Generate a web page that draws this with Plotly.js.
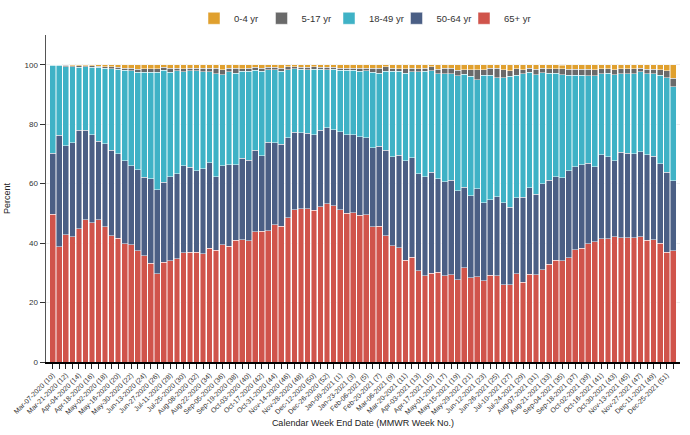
<!DOCTYPE html>
<html>
<head>
<meta charset="utf-8">
<script src="https://cdn.plot.ly/plotly-3.0.1.min.js"></script>
<style>html,body{margin:0;padding:0;background:#fff;}#chart{width:690px;height:435px;}</style>
</head>
<body>
<div id="chart"></div>
<script>
const weeks = [
"Mar-07-2020 (10)","Mar-14-2020 (11)","Mar-21-2020 (12)","Mar-28-2020 (13)","Apr-04-2020 (14)","Apr-11-2020 (15)","Apr-18-2020 (16)","Apr-25-2020 (17)",
"May-02-2020 (18)","May-09-2020 (19)","May-16-2020 (20)","May-23-2020 (21)","May-30-2020 (22)","Jun-06-2020 (23)","Jun-13-2020 (24)","Jun-20-2020 (25)",
"Jun-27-2020 (26)","Jul-04-2020 (27)","Jul-11-2020 (28)","Jul-18-2020 (29)","Jul-25-2020 (30)","Aug-01-2020 (31)","Aug-08-2020 (32)","Aug-15-2020 (33)",
"Aug-22-2020 (34)","Aug-29-2020 (35)","Sep-05-2020 (36)","Sep-12-2020 (37)","Sep-19-2020 (38)","Sep-26-2020 (39)","Oct-03-2020 (40)","Oct-10-2020 (41)",
"Oct-17-2020 (42)","Oct-24-2020 (43)","Oct-31-2020 (44)","Nov-07-2020 (45)","Nov-14-2020 (46)","Nov-21-2020 (47)","Nov-28-2020 (48)","Dec-05-2020 (49)",
"Dec-12-2020 (50)","Dec-19-2020 (51)","Dec-26-2020 (52)","Jan-02-2021 (53)","Jan-09-2021 (1)","Jan-16-2021 (2)","Jan-23-2021 (3)","Jan-30-2021 (4)",
"Feb-06-2021 (5)","Feb-13-2021 (6)","Feb-20-2021 (7)","Feb-27-2021 (8)","Mar-06-2021 (9)","Mar-13-2021 (10)","Mar-20-2021 (11)","Mar-27-2021 (12)",
"Apr-03-2021 (13)","Apr-10-2021 (14)","Apr-17-2021 (15)","Apr-24-2021 (16)","May-01-2021 (17)","May-08-2021 (18)","May-15-2021 (19)","May-22-2021 (20)",
"May-29-2021 (21)","Jun-05-2021 (22)","Jun-12-2021 (23)","Jun-19-2021 (24)","Jun-26-2021 (25)","Jul-03-2021 (26)","Jul-10-2021 (27)","Jul-17-2021 (28)",
"Jul-24-2021 (29)","Jul-31-2021 (30)","Aug-07-2021 (31)","Aug-14-2021 (32)","Aug-21-2021 (33)","Aug-28-2021 (34)","Sep-04-2021 (35)","Sep-11-2021 (36)",
"Sep-18-2021 (37)","Sep-25-2021 (38)","Oct-02-2021 (39)","Oct-09-2021 (40)","Oct-16-2021 (41)","Oct-23-2021 (42)","Oct-30-2021 (43)","Nov-06-2021 (44)",
"Nov-13-2021 (45)","Nov-20-2021 (46)","Nov-27-2021 (47)","Dec-04-2021 (48)","Dec-11-2021 (49)","Dec-18-2021 (50)","Dec-25-2021 (51)","Jan-01-2022 (52)"
];

const age65plus = [
49.7,38.8,42.8,42.1,44.9,47.8,46.9,47.9,45.5,42.4,41.6,39.7,39.5,37.5,35.7,33.3,
29.7,33.6,34.1,34.8,36.7,36.9,37.0,36.4,38.3,37.6,39.5,38.9,40.9,41.1,40.8,43.9,
44.0,44.1,46.2,45.7,48.6,51.2,51.5,51.5,51.1,52.2,53.2,52.5,51.2,50.0,50.2,49.3,
49.6,45.5,45.7,42.4,39.1,38.4,34.3,35.2,30.7,29.0,29.8,30.2,29.0,29.4,27.6,31.7,
28.3,28.6,27.4,29.1,29.0,26.0,26.0,29.7,26.8,29.6,29.3,31.1,32.9,34.3,34.1,35.1,
37.7,38.2,39.8,40.4,41.5,41.5,42.1,41.8,41.8,41.8,42.1,40.9,41.1,40.0,36.9,37.5
];
const age50to64 = [
20.6,37.4,29.9,31.6,33.0,30.2,29.6,26.4,27.9,28.8,28.5,28.0,26.5,27.1,26.4,28.3,
28.3,26.9,28.3,28.5,29.3,28.6,27.4,28.6,28.7,24.8,26.6,27.5,25.5,27.4,27.0,27.3,
25.3,29.8,27.6,27.5,26.9,26.1,25.7,25.4,25.3,25.7,25.6,25.6,26.2,26.4,26.2,26.5,
25.9,26.6,26.8,28.8,29.9,31.1,33.4,33.5,32.6,33.3,34.1,31.5,31.6,31.8,30.0,27.1,
27.6,29.6,26.2,25.4,26.6,27.6,26.0,25.5,28.6,29.0,27.2,28.8,28.3,28.1,27.9,29.3,
28.0,28.1,27.1,25.3,28.2,27.6,25.6,28.7,28.5,28.2,28.6,28.9,28.1,26.7,27.0,23.4
];
const age18to49 = [
29.6,23.7,26.7,25.6,21.3,21.3,22.7,24.8,25.5,27.5,28.4,30.4,31.9,32.9,35.4,35.8,
39.4,37.7,35.1,34.7,31.6,32.5,33.6,32.6,30.6,34.5,30.5,31.2,30.8,29.3,30.0,26.9,
28.5,24.4,24.5,24.6,22.8,21.4,21.3,21.4,22.0,20.6,19.5,20.4,20.7,21.7,21.7,22.0,
22.5,25.4,24.7,26.6,28.8,28.3,29.4,29.0,34.4,35.5,34.1,35.3,36.4,35.7,38.7,38.0,
40.2,36.7,42.8,41.9,40.1,42.1,44.1,41.2,41.6,38.9,40.2,37.4,35.9,34.7,34.6,32.0,
30.7,30.2,29.4,30.6,27.3,28.1,28.9,26.5,26.7,26.9,26.9,27.1,27.8,29.7,31.8,31.7
];
const age5to17 = [
0.1,0.1,0.4,0.3,0.4,0.3,0.4,0.4,0.5,0.6,0.7,0.8,0.9,1.0,1.2,1.3,
1.3,0.9,1.4,0.9,1.1,0.9,0.9,1.3,1.3,2.0,1.7,1.3,1.7,0.9,1.0,1.0,
1.1,0.8,0.8,1.1,1.0,0.6,0.7,0.9,0.9,0.7,0.9,0.7,0.8,0.8,0.8,1.1,
0.9,1.4,1.7,1.5,1.1,0.9,1.6,1.2,1.0,1.1,1.3,1.5,1.9,2.0,1.9,1.5,
2.2,3.4,1.9,2.5,3.2,2.6,1.9,2.3,1.3,1.4,1.7,1.6,1.6,1.6,2.0,2.0,
2.0,1.9,2.1,2.0,1.7,1.5,1.7,1.7,1.7,1.8,1.3,1.5,1.5,1.9,2.3,2.9
];
const age0to4 = [
0.0,0.0,0.2,0.4,0.4,0.4,0.4,0.5,0.6,0.7,0.8,1.1,1.2,1.5,1.3,1.3,
1.3,0.9,1.1,1.1,1.3,1.1,1.1,1.1,1.1,1.1,1.7,1.1,1.1,1.3,1.2,0.9,
1.1,0.9,0.9,1.1,0.7,0.7,0.8,0.8,0.7,0.8,0.8,0.8,1.1,1.1,1.1,1.1,
1.1,1.1,1.1,0.7,1.1,1.3,1.3,1.1,1.3,1.1,0.7,1.5,1.1,1.1,1.8,1.7,
1.7,1.7,1.7,1.1,1.1,1.7,2.0,1.3,1.7,1.1,1.6,1.1,1.3,1.3,1.3,1.6,
1.6,1.6,1.6,1.7,1.3,1.3,1.7,1.3,1.3,1.3,1.1,1.6,1.5,1.7,2.0,4.5
];

const seriesNames = ["65+ yr","50-64 yr","18-49 yr","5-17 yr","0-4 yr"];
const seriesColors = ["#D0544B","#4B5F85","#3FB2C6","#6A6A6A","#E0A02E"];
const seriesValues = [age65plus, age50to64, age18to49, age5to17, age0to4];

const traces = seriesValues.map((vals, i) => ({
  type: "bar",
  name: seriesNames[i],
  x: weeks,
  y: vals,
  marker: {color: seriesColors[i], line: {color: "rgba(255,255,255,0.8)", width: 0.6}},
  hoverinfo: "x+y+name"
}));

const tickText = weeks.map((w, i) => (i % 2 === 0 ? w : ""));

const layout = {
  width: 690, height: 435,
  margin: {l: 46, r: 10, t: 35, b: 73},
  barmode: "stack",
  bargap: 0.12,
  paper_bgcolor: "#fff", plot_bgcolor: "#fff",
  font: {family: "Liberation Sans, Arial, sans-serif", color: "#333"},
  showlegend: true,
  legend: {
    orientation: "h", x: 0.5, xanchor: "center",
    yref: "container", y: 0.958, yanchor: "middle",
    traceorder: "reversed", font: {size: 9.5, color: "#333"},
    itemwidth: 30, entrywidth: 22.5, entrywidthmode: "pixels"
  },
  xaxis: {
    type: "category",
    range: [-1.04, 96.04],
    tickmode: "array", tickvals: weeks, ticktext: tickText,
    tickangle: -45, ticks: "outside", ticklen: 5, tickwidth: 1, tickcolor: "#222",
    showline: true, linecolor: "#000", linewidth: 1.5,
    showgrid: false,
    tickfont: {size: 7, color: "#333"},
    title: {text: "Calendar Week End Date (MMWR Week No.)", font: {size: 9, color: "#222"}, standoff: 4}
  },
  yaxis: {
    range: [0, 110],
    tickmode: "array", tickvals: [0, 20, 40, 60, 80, 100],
    ticks: "outside", ticklen: 5, tickcolor: "#333",
    showline: true, linecolor: "#555", linewidth: 1.5,
    showgrid: true, gridcolor: "#eeeeee", zeroline: false,
    tickfont: {size: 8, color: "#333"},
    title: {text: "Percent", font: {size: 9, color: "#222"}, standoff: 12}
  }
};

Plotly.newPlot("chart", traces, layout, {displayModeBar: false, staticPlot: true});
</script>
</body>
</html>
